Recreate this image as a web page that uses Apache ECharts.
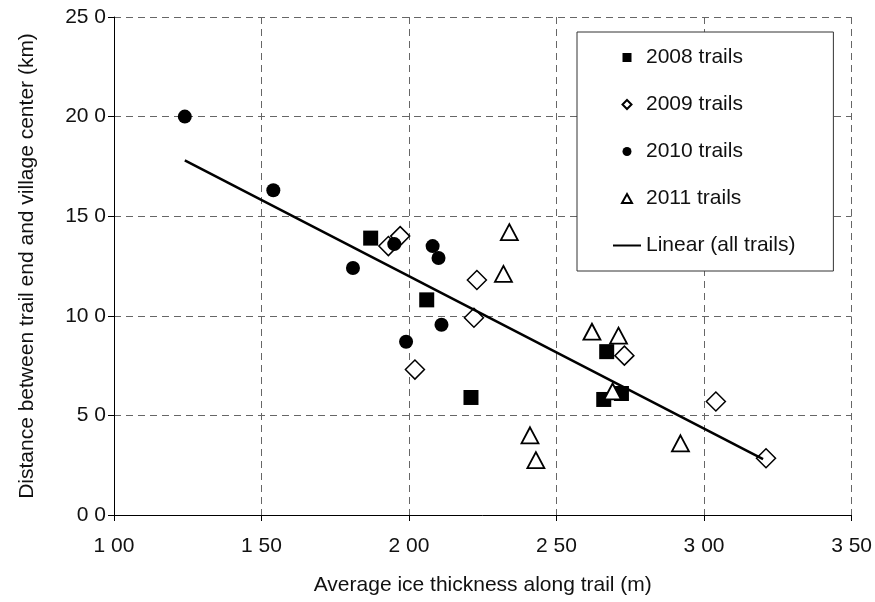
<!DOCTYPE html>
<html>
<head>
<meta charset="utf-8">
<script src="https://cdn.jsdelivr.net/npm/echarts@6/dist/echarts.min.js"></script>
<style>
  html, body { margin: 0; padding: 0; background: #fff; }
  #chart { width: 875px; height: 602px; }
</style>
</head>
<body>
<div id="chart"></div>
<script>
// values
const x2008 = [1.87, 2.06, 2.21, 2.67, 2.66, 2.72];
const y2008 = [13.9, 10.8, 5.9, 8.2, 5.8, 6.1];

const x2009 = [1.93, 1.97, 2.23, 2.22, 2.02, 2.73, 3.04, 3.21];
const y2009 = [13.5, 14.0, 11.8, 9.9, 7.3, 8.0, 5.7, 2.85];

const x2010 = [1.24, 1.54, 1.81, 1.95, 2.08, 2.10, 2.11, 1.99];
const y2010 = [20.0, 16.3, 12.4, 13.6, 13.5, 12.9, 9.55, 8.7];

const x2011 = [2.34, 2.32, 2.62, 2.71, 2.69, 2.41, 2.43, 2.92];
const y2011 = [14.2, 12.1, 9.2, 9.0, 6.2, 4.0, 2.75, 3.6];

// linear fit through all trails (end points)
const xTrend = [1.24, 3.20];
const yTrend = [17.8, 2.8];

const seriesNames = ['2008 trails', '2009 trails', '2010 trails', '2011 trails', 'Linear (all trails)'];

function pairs(xs, ys) {
  return xs.map((x, i) => [x, ys[i]]);
}

const font = 'Liberation Sans, Arial, sans-serif';
const ink = '#111';

// legend icons as paths so they keep their aspect inside the 28x9 box
const legendIcons = [
  'path://M0,0h10v10h-10z',
  'path://M5,0L10,5L5,10L0,5z',
  'path://M5,0A5,5,0,1,1,5,10A5,5,0,1,1,5,0z',
  'path://M5,0L10,9L0,9z',
  'path://M0,0h28v2h-28z'
];

let chart = echarts.init(document.getElementById('chart'), null, { renderer: 'canvas' });

chart.setOption({
  animation: false,
  backgroundColor: '#fff',
  textStyle: { fontFamily: font, color: ink },
  grid: { left: 114, right: 22, top: 17, bottom: 87 },
  legend: {
    data: seriesNames.map((name, i) => ({ name, icon: legendIcons[i] })),
    orient: 'vertical',
    left: 577,
    top: 32,
    padding: [15, 38, 15, 36],
    itemGap: 26,
    itemWidth: 28,
    itemHeight: 9,
    symbolKeepAspect: true,
    backgroundColor: '#fff',
    borderColor: '#333',
    borderWidth: 1,
    textStyle: { fontSize: 21, color: ink, fontFamily: font }
  },
  xAxis: {
    type: 'value',
    min: 1,
    max: 3.5,
    interval: 0.5,
    name: 'Average ice thickness along trail (m)',
    nameLocation: 'middle',
    nameGap: 60,
    nameTextStyle: { fontSize: 21, color: ink },
    axisLine: { show: true, lineStyle: { color: '#000', width: 1 } },
    axisTick: { show: true, inside: false, length: 6, lineStyle: { color: '#000' } },
    axisLabel: {
      fontSize: 21,
      color: ink,
      margin: 21,
      formatter: v => v.toFixed(2).replace('.', ' ')
    },
    splitLine: { show: true, lineStyle: { color: '#666', type: [7, 5], width: 1 } }
  },
  yAxis: {
    type: 'value',
    min: 0,
    max: 25,
    interval: 5,
    name: 'Distance between trail end and village center (km)',
    nameLocation: 'middle',
    nameGap: 76,
    nameTextStyle: { fontSize: 21, color: ink },
    axisLine: { show: true, lineStyle: { color: '#000', width: 1 } },
    axisTick: { show: true, inside: false, length: 6, lineStyle: { color: '#000' } },
    axisLabel: {
      fontSize: 21,
      color: ink,
      margin: 8,
      formatter: v => v.toFixed(1).replace('.', ' ')
    },
    splitLine: { show: true, lineStyle: { color: '#666', type: [7, 5], width: 1 } }
  },
  series: [
    {
      name: seriesNames[0],
      type: 'scatter',
      symbol: 'rect',
      symbolSize: 15,
      itemStyle: { color: '#000', opacity: 1 },
      data: pairs(x2008, y2008)
    },
    {
      name: seriesNames[1],
      type: 'scatter',
      symbol: 'diamond',
      symbolSize: 19,
      itemStyle: { color: '#fff', borderColor: '#000', borderWidth: 1.5, opacity: 1 },
      data: pairs(x2009, y2009)
    },
    {
      name: seriesNames[2],
      type: 'scatter',
      symbol: 'circle',
      symbolSize: 14,
      itemStyle: { color: '#000', opacity: 1 },
      data: pairs(x2010, y2010)
    },
    {
      name: seriesNames[3],
      type: 'scatter',
      symbol: 'triangle',
      symbolSize: [17, 16],
      itemStyle: { color: '#fff', borderColor: '#000', borderWidth: 1.8, opacity: 1 },
      data: pairs(x2011, y2011)
    },
    {
      name: seriesNames[4],
      type: 'line',
      symbol: 'none',
      showSymbol: false,
      lineStyle: { color: '#000', width: 2.5 },
      itemStyle: { color: '#000' },
      z: 5,
      data: pairs(xTrend, yTrend)
    }
  ]
});
</script>
</body>
</html>
